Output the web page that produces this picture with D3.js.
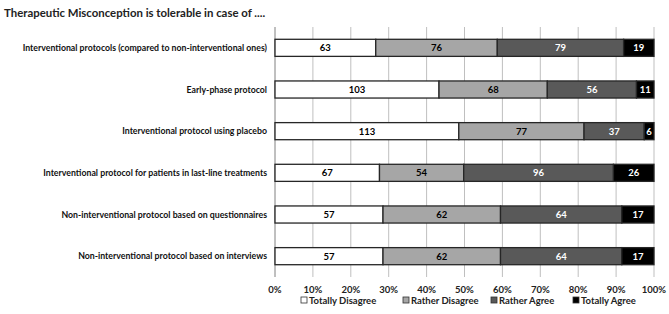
<!DOCTYPE html>
<html><head><meta charset="utf-8">
<script src="https://cdn.jsdelivr.net/npm/d3@7"></script>
<style>body{margin:0;background:#fff}svg{display:block}text{font-family:Lato,"Open Sans",sans-serif;font-weight:bold}</style>
</head><body><svg id="c" width="669" height="314"></svg>
<script>
const title = "Therapeutic Misconception is tolerable in case of ....";
const categories = [
  "Interventional protocols (compared to non-interventional ones)",
  "Early-phase protocol",
  "Interventional protocol using placebo",
  "Interventional protocol for patients in last-line treatments",
  "Non-interventional protocol based on questionnaires",
  "Non-interventional protocol based on interviews"
];
const seriesNames = ["Totally Disagree","Rather Disagree","Rather Agree","Totally Agree"];
const totallyDisagree = [63,103,113,67,57,57];
const ratherDisagree = [76,68,77,54,62,62];
const ratherAgree = [79,56,37,96,64,64];
const totallyAgree = [19,11,6,26,17,17];
const tickLabels = [0,10,20,30,40,50,60,70,80,90,100];

const colors = ["#ffffff","#a6a6a6","#595959","#000000"];
const textColors = ["#000","#000","#fff","#fff"];

const svg = d3.select("#c");
const pLeft = 275, pRight = 654, pTop = 27, pBottom = 277;
const x = d3.scaleLinear().domain([0,1]).range([pLeft,pRight]);
const y = d3.scaleBand().domain(categories).range([pTop,pBottom]).paddingInner(0.59).paddingOuter(0.295);

svg.append("text").attr("x",4).attr("y",17).attr("font-size",11.4).attr("fill","#222").text(title);

// gridlines
svg.append("g").selectAll("line").data(tickLabels.slice(1)).join("line")
  .attr("x1",d=>x(d/100)).attr("x2",d=>x(d/100)).attr("y1",pTop).attr("y2",pBottom)
  .attr("stroke","#bfbfbf").attr("stroke-width",1);
svg.append("line").attr("x1",pLeft).attr("x2",pLeft).attr("y1",pTop).attr("y2",pBottom).attr("stroke","#808080");

// x tick labels
svg.append("g").selectAll("text").data(tickLabels).join("text")
  .attr("x",d=>x(d/100)).attr("y",293).attr("text-anchor","middle").attr("font-size",9.5).attr("fill","#222")
  .text(d=>d+"%");

// category labels
svg.append("g").selectAll("text").data(categories).join("text")
  .attr("x",267).attr("y",d=>y(d)+y.bandwidth()/2+3.2).attr("text-anchor","end").attr("font-size",8.75).attr("fill","#111")
  .text(d=>d);

const series = [totallyDisagree,ratherDisagree,ratherAgree,totallyAgree];
const rows = categories.map((c,i)=>{
  const vals = series.map(s=>s[i]);
  const tot = d3.sum(vals);
  let cum = 0;
  return vals.map((v,k)=>{const s={cat:c,k,v,x0:cum/tot,x1:(cum+v)/tot};cum+=v;return s;});
}).flat();

const g = svg.append("g");
g.selectAll("rect").data(rows).join("rect")
  .attr("x",d=>x(d.x0)).attr("width",d=>x(d.x1)-x(d.x0))
  .attr("y",d=>y(d.cat)).attr("height",y.bandwidth())
  .attr("fill",d=>colors[d.k]).attr("stroke","#262626").attr("stroke-width",1.3);
g.selectAll("text").data(rows).join("text")
  .attr("x",d=>(x(d.x0)+x(d.x1))/2).attr("y",d=>y(d.cat)+y.bandwidth()/2+3.4)
  .attr("text-anchor","middle").attr("font-size",9.5).attr("fill",d=>textColors[d.k])
  .text(d=>d.v);

// legend
const legX = [301,403,491,573];
const leg = svg.append("g").selectAll("g").data(seriesNames).join("g")
  .attr("transform",(d,i)=>`translate(${legX[i]},304)`);
leg.append("rect").attr("x",0).attr("y",-7).attr("width",6).attr("height",6)
  .attr("fill",(d,i)=>colors[i]).attr("stroke","#333").attr("stroke-width",0.8);
leg.append("text").attr("x",8).attr("y",0).attr("font-size",9.5).attr("fill","#222").text(d=>d);
</script></body></html>
